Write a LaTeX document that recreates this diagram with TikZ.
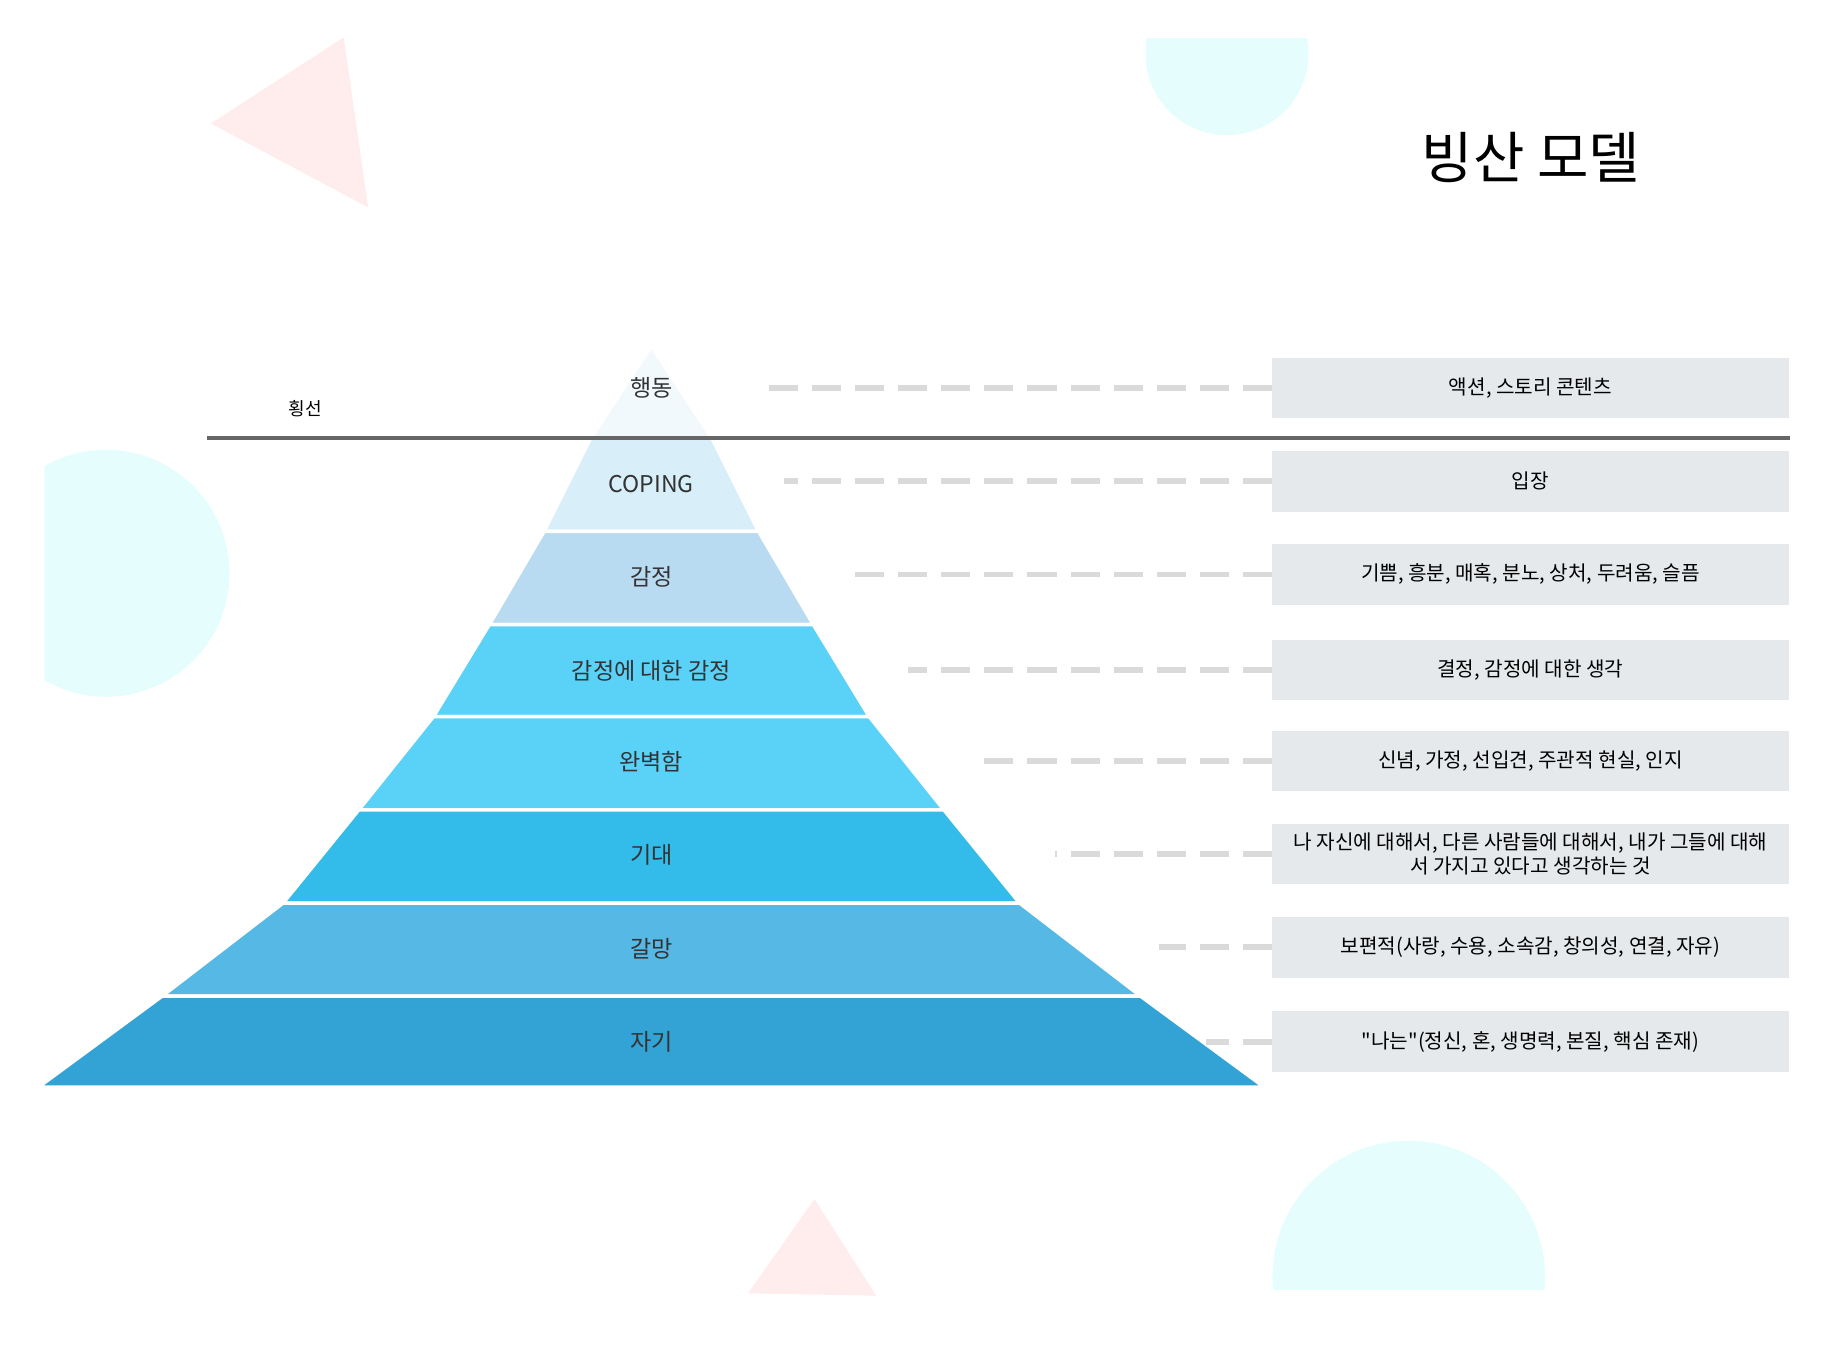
\documentclass[tikz,border=0pt]{standalone}
\usepackage{fontspec}
\setmainfont{Noto Sans CJK KR}
\newfontfamily\boxfont{Noto Sans CJK KR}
\usepackage{tikz}
\usepackage{xcolor}
\definecolor{layerA}{HTML}{F2F9FD}
\definecolor{layerB}{HTML}{D8EEF9}
\definecolor{layerC}{HTML}{B8DBF2}
\definecolor{layerD}{HTML}{5AD2F8}
\definecolor{layerE}{HTML}{33BBE9}
\definecolor{layerF}{HTML}{55B8E5}
\definecolor{layerG}{HTML}{33A3D6}
\definecolor{labelgray}{HTML}{333333}
\definecolor{boxgray}{HTML}{E6E9EC}
\definecolor{dashgray}{HTML}{DADADA}
\definecolor{rulegray}{HTML}{666666}
\definecolor{pinkdeco}{HTML}{FFEDED}
\definecolor{cyandeco}{HTML}{E6FDFE}
\tikzset{
    layer-shape/.style = {draw=white, line width=3pt, line join=round},
    layer-label/.style = {text=labelgray, font=\fontsize{19.8}{24}\selectfont, inner sep=2pt},
    info-box/.style = {fill=boxgray, rectangle, minimum width=443pt, minimum height=52pt, inner sep=0pt, align=center, font=\boxfont\fontsize{17.3}{21}\selectfont},
    dash-link/.style = {draw=dashgray, line width=5pt, dash pattern=on 25pt off 12pt},
}

\begin{document}
\begin{tikzpicture}[x=1pt, y=-1pt]
\useasboundingbox (0,0) rectangle (1568,1154);

% background shapes
\fill[pinkdeco] (181,106) -- (295,32) -- (316,178) -- cycle;
\fill[pinkdeco] (699,1029) -- (752,1112) -- (642,1110) -- cycle;
\begin{scope}
    \clip (983,33) rectangle (1123,200);
    \fill[cyandeco] (1053,46) circle (70);
\end{scope}
\begin{scope}
    \clip (38,300) rectangle (300,700);
    \fill[cyandeco] (91,492) circle (106);
\end{scope}
\begin{scope}
    \clip (1000,900) rectangle (1400,1107);
    \fill[cyandeco] (1209,1096) circle (117);
\end{scope}

% pyramid
\path[layer-shape, fill=layerA] (559,297) -- (611,376) -- (507,376) -- cycle;
\path[layer-shape, fill=layerB] (507,376) -- (611,376) -- (651,456) -- (467,456) -- cycle;
\path[layer-shape, fill=layerC] (467,456) -- (651,456) -- (698,536) -- (420,536) -- cycle;
\path[layer-shape, fill=layerD] (420,536) -- (698,536) -- (746,615) -- (372,615) -- cycle;
\path[layer-shape, fill=layerD] (372,615) -- (746,615) -- (810,695) -- (308,695) -- cycle;
\path[layer-shape, fill=layerE] (308,695) -- (810,695) -- (875,775) -- (243,775) -- cycle;
\path[layer-shape, fill=layerF] (243,775) -- (875,775) -- (979,855) -- (139,855) -- cycle;
\path[layer-shape, fill=layerG] (139,855) -- (979,855) -- (1085,933) -- (33,933) -- cycle;

\node[layer-label] (behavior) at (559,333) {행동};
\node[layer-label] (coping) at (559,415) {COPING};
\node[layer-label] (feeling) at (559,495) {감정};
\node[layer-label] (feel-feel) at (559,576) {감정에 대한 감정};
\node[layer-label] (perception) at (559,654) {완벽함};
\node[layer-label] (expect) at (559,734) {기대};
\node[layer-label] (yearning) at (559,814) {갈망};
\node[layer-label] (self) at (559,894) {자기};

% water line
\coordinate (rule-left) at (178,376);
\coordinate (rule-right) at (1536,376);
\draw[rulegray, line width=3.5pt] (rule-left) -- (rule-right);
\node[font=\fontsize{15.5}{18}\selectfont] (rule-title) at (262,351) {횡선};

\node[font=\fontsize{48}{54}\selectfont] (title) at (1314,135) {빙산 모델};

% description boxes
\node[info-box] (behavior-box) at (1313.5,333) {액션, 스토리 콘텐츠};
\node[info-box] (coping-box) at (1313.5,413) {입장};
\node[info-box] (feeling-box) at (1313.5,493) {기쁨, 흥분, 매혹, 분노, 상처, 두려움, 슬픔};
\node[info-box] (feel-feel-box) at (1313.5,575) {결정, 감정에 대한 생각};
\node[info-box] (perception-box) at (1313.5,653) {신념, 가정, 선입견, 주관적 현실, 인지};
\node[info-box] (expect-box) at (1313.5,733) {나 자신에 대해서, 다른 사람들에 대해서, 내가 그들에 대해\\서 가지고 있다고 생각하는 것};
\node[info-box] (yearning-box) at (1313.5,813) {보편적(사랑, 수용, 소속감, 창의성, 연결, 자유)};
\node[info-box] (self-box) at (1313.5,894) {"나는"(정신, 혼, 생명력, 본질, 핵심 존재)};

\coordinate (behavior-end) at (651,333);
\coordinate (coping-end) at (673,413);
\coordinate (feeling-end) at (732,493);
\coordinate (feel-feel-end) at (779,575);
\coordinate (perception-end) at (838,653);
\coordinate (expect-end) at (905,733);
\coordinate (yearning-end) at (995,813);
\coordinate (self-end) at (1035,894);
\draw[dash-link] (behavior-box.west) -- (behavior-end);
\draw[dash-link] (coping-box.west) -- (coping-end);
\draw[dash-link] (feeling-box.west) -- (feeling-end);
\draw[dash-link] (feel-feel-box.west) -- (feel-feel-end);
\draw[dash-link] (perception-box.west) -- (perception-end);
\draw[dash-link] (expect-box.west) -- (expect-end);
\draw[dash-link] (yearning-box.west) -- (yearning-end);
\draw[dash-link] (self-box.west) -- (self-end);
\end{tikzpicture}
\end{document}
